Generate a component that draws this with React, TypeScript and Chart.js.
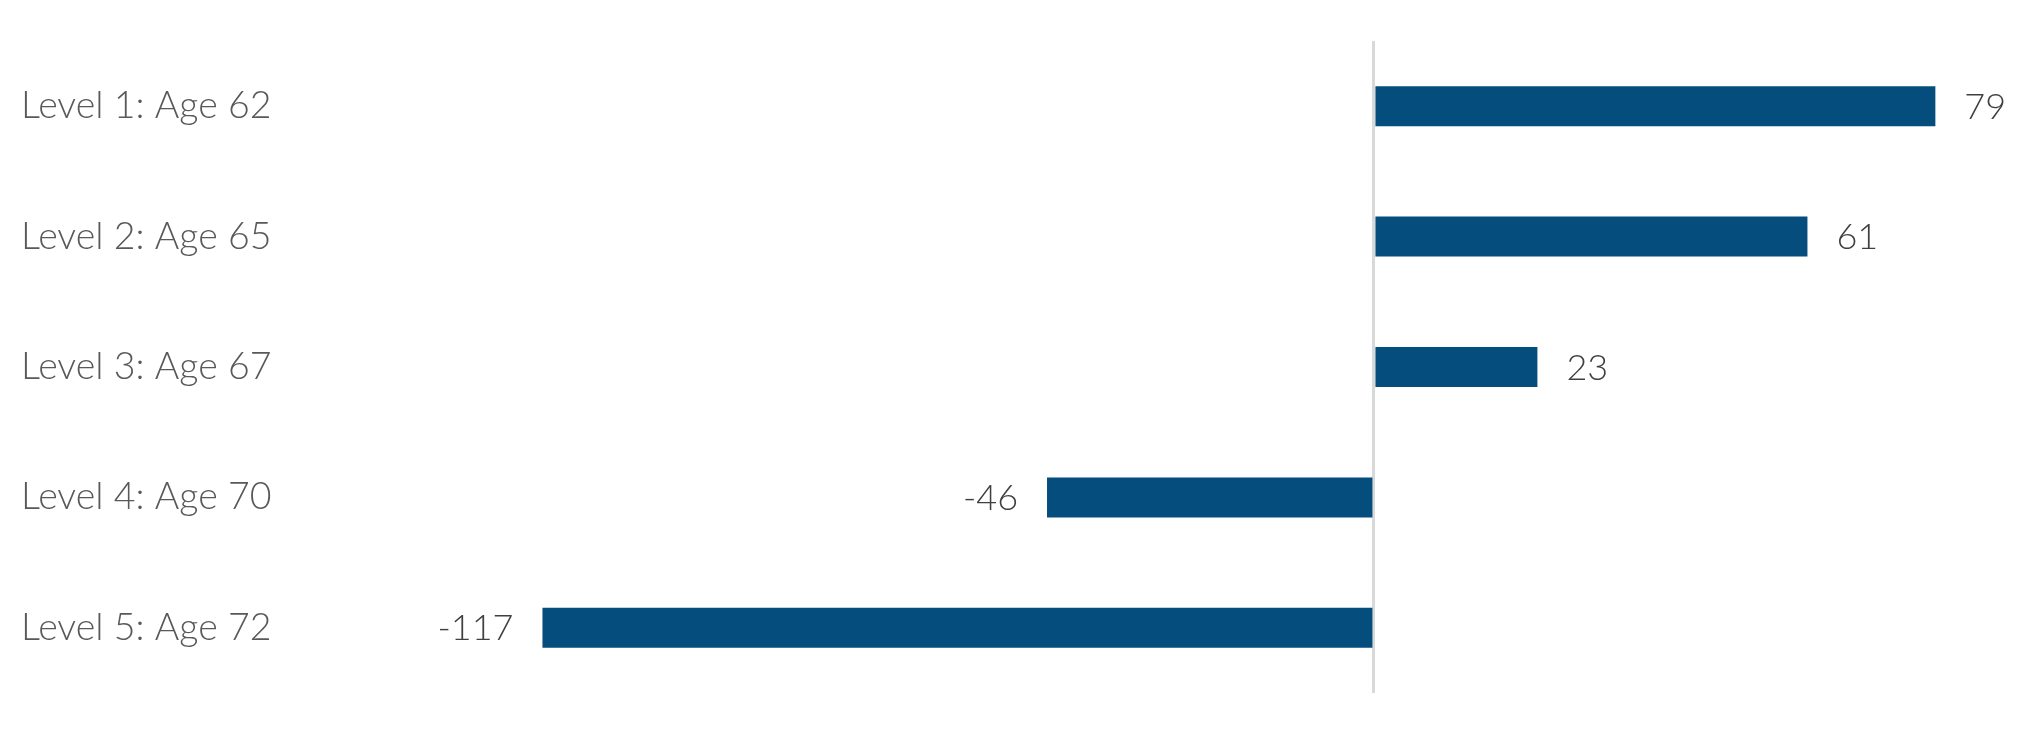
import React, { useEffect, useRef } from "react";
import { Chart, registerables } from "chart.js";

Chart.register(...registerables);

const categories = ["Level 1: Age 62", "Level 2: Age 65", "Level 3: Age 67", "Level 4: Age 70", "Level 5: Age 72"];
const values = [79, 61, 23, -46, -117];
const xMin = -140;
const xMax = 85;

const FONT = "Lato";

const valueLabels = {
  id: "valueLabels",
  afterDatasetsDraw(chart: any) {
    const ctx = chart.ctx;
    const meta = chart.getDatasetMeta(0);
    ctx.save();
    ctx.font = `300 36px ${FONT}`;
    ctx.fillStyle = "#404040";
    ctx.textBaseline = "middle";
    meta.data.forEach((bar: any, i: number) => {
      const v = values[i];
      if (v >= 0) {
        ctx.textAlign = "left";
        ctx.fillText(String(v), bar.x + 29, bar.y + 1);
      } else {
        ctx.textAlign = "right";
        ctx.fillText(String(v), bar.x - 29, bar.y + 1);
      }
    });
    ctx.restore();
  },
};

export default function App() {
  const ref = useRef<HTMLCanvasElement>(null);
  useEffect(() => {
    if (!ref.current) return;
    const chart = new Chart(ref.current, {
      type: "bar",
      data: {
        labels: categories,
        datasets: [
          {
            data: values,
            backgroundColor: "#054D7C",
            borderWidth: 0,
            barPercentage: 0.307,
            categoryPercentage: 1,
          },
        ],
      },
      options: {
        indexAxis: "y",
        responsive: false,
        animation: false,
        layout: { padding: { left: 13, top: 33, bottom: 31, right: 35 } },
        plugins: { legend: { display: false }, tooltip: { enabled: false } },
        scales: {
          x: {
            min: xMin,
            max: xMax,
            ticks: { display: false },
            border: { display: false },
            grid: {
              drawTicks: false,
              lineWidth: 3,
              color: (c: any) => (c.tick && c.tick.value === 0 ? "#D9D9D9" : "rgba(0,0,0,0)"),
            },
            afterFit: (s: any) => {
              s.height = 0;
            },
          },
          y: {
            ticks: {
              crossAlign: "far",
              color: "#595959",
              font: { family: FONT, size: 37.5, weight: "300" },
              padding: 0,
            },
            grid: { display: false, drawTicks: false },
            border: { display: false },
            afterFit: (s: any) => {
              s.width = 358;
            },
          },
        },
      },
      plugins: [valueLabels],
    });
    return () => chart.destroy();
  }, []);
  return <canvas ref={ref} width={2005} height={716} style={{ display: "block" }} />;
}
